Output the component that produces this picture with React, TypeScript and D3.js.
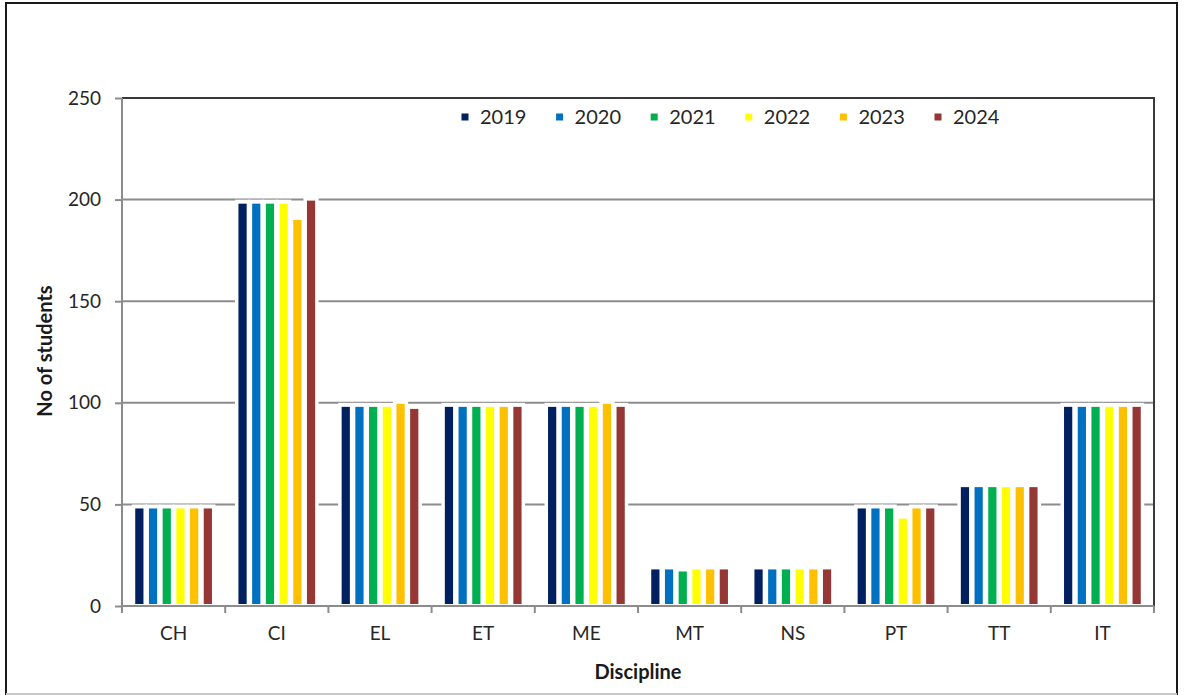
import React, { useEffect, useRef } from 'react'
import * as d3 from 'd3'

// data
const disciplines = ['CH', 'CI', 'EL', 'ET', 'ME', 'MT', 'NS', 'PT', 'TT', 'IT']
const years = ['2019', '2020', '2021', '2022', '2023', '2024']
const colors = ['#002060', '#0070C0', '#00B050', '#FFFF00', '#FFC000', '#953735']
const values2019 = [48, 198, 98, 98, 98, 18, 18, 48, 58.5, 98]
const values2020 = [48, 198, 98, 98, 98, 18, 18, 48, 58.5, 98]
const values2021 = [48, 198, 98, 98, 98, 17, 18, 48, 58.5, 98]
const values2022 = [48, 198, 98, 98, 98, 18, 18, 43, 58.5, 98]
const values2023 = [48, 190, 99.5, 98, 99.5, 18, 18, 48, 58.5, 98]
const values2024 = [48, 199.5, 97, 98, 98, 18, 18, 48, 58.5, 98]
const series = [values2019, values2020, values2021, values2022, values2023, values2024]
const yTicks = [0, 50, 100, 150, 200, 250]

const W = 1185
const H = 697
const FONT = 'Lato, "Open Sans", sans-serif'

const draw = (el: SVGSVGElement) => {
    const svg = d3.select(el)
    svg.selectAll('*').remove()

    const left = 122
    const right = 1154
    const top = 98
    const bottom = 606

    // scales
    const x0 = d3.scaleBand().domain(disciplines).range([left, right]).padding(0)
    const x1 = d3
        .scaleBand()
        .domain(years)
        .range([10.5, x0.bandwidth() - 10.5])
        .paddingInner(0.4)
        .paddingOuter(0.2)
    const y = d3.scaleLinear().domain([0, 250]).range([bottom, top])

    // outer frame
    svg.append('rect')
        .attr('x', 6)
        .attr('y', 3)
        .attr('width', 1171)
        .attr('height', 691)
        .attr('fill', 'white')
        .attr('stroke', '#1a1a1a')
        .attr('stroke-width', 2)
    svg.append('line')
        .attr('x1', 6)
        .attr('x2', 1177)
        .attr('y1', 694)
        .attr('y2', 694)
        .attr('stroke', '#c8c8c8')
        .attr('stroke-width', 2)

    // gridlines
    svg.append('g')
        .selectAll('line')
        .data(yTicks.filter(t => t > 0 && t < 250))
        .join('line')
        .attr('x1', left)
        .attr('x2', right)
        .attr('y1', d => y(d))
        .attr('y2', d => y(d))
        .attr('stroke', '#8c8c8c')
        .attr('stroke-width', 2)

    // bars: white backing first, then colored bars
    const groups = svg
        .append('g')
        .selectAll('g')
        .data(disciplines)
        .join('g')
        .attr('transform', d => `translate(${x0(d)},0)`)

    const cells = (gi: number) => years.map((yr, si) => ({ yr, si, v: series[si][gi] }))

    groups
        .selectAll('rect.bg')
        .data((d, gi) => cells(gi))
        .join('rect')
        .attr('class', 'bg')
        .attr('x', d => (x1(d.yr) as number) - 3.5)
        .attr('width', x1.bandwidth() + 7)
        .attr('y', d => y(d.v) - 4)
        .attr('height', d => bottom - y(d.v) + 4)
        .attr('fill', 'white')

    groups
        .selectAll('rect.bar')
        .data((d, gi) => cells(gi))
        .join('rect')
        .attr('class', 'bar')
        .attr('x', d => x1(d.yr) as number)
        .attr('width', x1.bandwidth())
        .attr('y', d => y(d.v))
        .attr('height', d => bottom - y(d.v) - 2)
        .attr('fill', d => colors[d.si])

    // plot frame top/right
    svg.append('path')
        .attr('d', `M${left},${top}H${right}V${bottom}`)
        .attr('fill', 'none')
        .attr('stroke', '#3a3a3a')
        .attr('stroke-width', 2)

    // y axis
    const yAxis = d3.axisLeft(y).tickValues(yTicks).tickSize(7).tickPadding(14)
    const gy = svg.append('g').attr('transform', `translate(${left},0)`).call(yAxis)
    gy.select('.domain').attr('stroke', '#8c8c8c').attr('stroke-width', 2).attr('d', `M0,${top}V${bottom}`)
    gy.selectAll('.tick line').attr('stroke', '#8c8c8c').attr('stroke-width', 2)
    gy.selectAll('.tick text')
        .attr('fill', '#262626')
        .style('font-size', '19px')
        .style('font-family', FONT)

    // x axis
    const xAxis = d3.axisBottom(x0).tickSize(0).tickPadding(21)
    const gx = svg.append('g').attr('transform', `translate(0,${bottom})`).call(xAxis)
    gx.select('.domain').attr('stroke', '#8c8c8c').attr('stroke-width', 2).attr('d', `M${left},0H${right}`)
    gx.selectAll('.tick text')
        .attr('fill', '#262626')
        .style('font-size', '19px')
        .style('font-family', FONT)
    gx.selectAll('line.sep')
        .data(d3.range(disciplines.length + 1))
        .join('line')
        .attr('class', 'sep')
        .attr('x1', i => left + i * x0.step())
        .attr('x2', i => left + i * x0.step())
        .attr('y1', 0)
        .attr('y2', 7)
        .attr('stroke', '#8c8c8c')
        .attr('stroke-width', 2)

    // axis titles
    svg.append('text')
        .attr('transform', `translate(52,351) rotate(-90)`)
        .attr('text-anchor', 'middle')
        .style('font-family', FONT)
        .style('font-size', '20px')
        .style('font-weight', 'bold')
        .attr('fill', '#1a1a1a')
        .text('No of students')
    svg.append('text')
        .attr('x', 638)
        .attr('y', 679)
        .attr('text-anchor', 'middle')
        .style('font-family', FONT)
        .style('font-size', '20px')
        .style('font-weight', 'bold')
        .attr('fill', '#1a1a1a')
        .text('Discipline')

    // legend
    const legend = svg
        .append('g')
        .selectAll('g')
        .data(years)
        .join('g')
        .attr('transform', (d, i) => `translate(${465 + i * 94.6},117)`)
    legend.append('rect')
        .attr('x', -3.5)
        .attr('y', -3.5)
        .attr('width', 7)
        .attr('height', 7)
        .attr('fill', (d, i) => colors[i])
    legend.append('text')
        .attr('x', 15)
        .attr('dy', '0.35em')
        .style('font-family', FONT)
        .style('font-size', '20px')
        .attr('fill', '#262626')
        .text(d => d)
}

export default function App() {
    const ref = useRef<SVGSVGElement>(null)
    useEffect(() => {
        if (ref.current) draw(ref.current)
    }, [])
    return (
        <svg
            ref={ref}
            width={W}
            height={H}
            style={{ position: 'absolute', left: 0, top: 0, background: 'white' }}
        />
    )
}
